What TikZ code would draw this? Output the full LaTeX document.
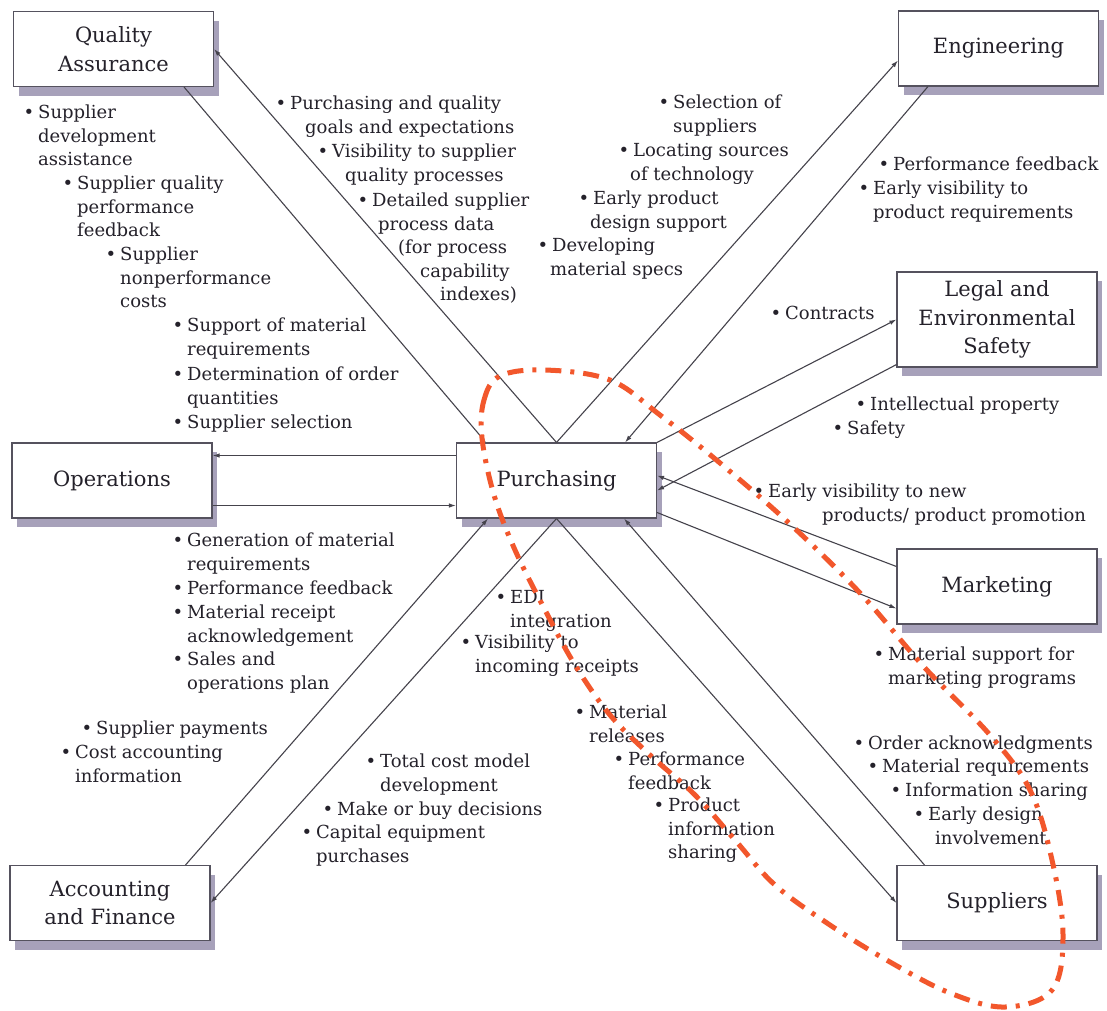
\documentclass[tikz,border=0pt]{standalone}
\usepackage{fontspec}
\setmainfont{DejaVu Serif}
\usetikzlibrary{arrows.meta,shadows}

\definecolor{inkc}{HTML}{24212A}
\definecolor{framec}{HTML}{55525E}
\definecolor{wirec}{HTML}{45434C}
\definecolor{shadec}{HTML}{A7A1BA}
\definecolor{loopc}{HTML}{F2572C}

\newcommand\bodyfont{\fontsize{18}{23.5}\selectfont}
\newcommand\boxfont{\fontsize{21}{28.5}\selectfont}
% one bullet item: name, x of text start, y of first text line, lines
\newcommand\bpt[4]{\node[bitem] (#1) at (#2,#3-11) {\strut\llap{\textbullet\hspace{4pt}}#4};}

\begin{document}
\begin{tikzpicture}[x=1pt,y=-1pt,
  unit/.style={draw=framec, line width=1.1pt, fill=white, align=center,
    font=\boxfont, text=inkc, minimum width=200pt, minimum height=75pt,
    inner sep=2pt,
    drop shadow={shadow xshift=5pt, shadow yshift=-9pt, fill=shadec, opacity=1}},
  bitem/.style={anchor=north west, inner sep=0pt, align=left,
    font=\bodyfont, text=inkc},
  flow/.style={draw=wirec, line width=1.1pt,
    -{Latex[length=7pt,width=4.5pt]}},
  ring/.style={draw=loopc, line width=5pt,
    dash pattern=on 16pt off 9pt on 4pt off 9pt}]

\useasboundingbox[fill=white] (0,0) rectangle (1107,1010);

% departments
\node[unit] (qa)  at (113.5,49)  {Quality\\Assurance};
\node[unit] (eng) at (998.5,48.5) {Engineering};
\node[unit, minimum height=95pt] (legal) at (997,319.5) {Legal and\\Environmental\\Safety};
\node[unit] (ops) at (112,480.5) {Operations};
\node[unit] (pur) at (556.5,480.5) {Purchasing};
\node[unit] (mkt) at (997,586.5) {Marketing};
\node[unit] (acc) at (110,903)   {Accounting\\and Finance};
\node[unit] (sup) at (997,903)   {Suppliers};

% information flows
\draw[flow] (pur.north) -- (qa.east);
\draw[flow] ([xshift=-30pt]qa.south east) -- ([xshift=30pt]pur.north west);
\draw[flow] (pur.north) -- ([yshift=-12pt]eng.west);
\draw[flow] ([xshift=30pt]eng.south west) -- ([xshift=-32pt]pur.north east);
\draw[flow] (pur.north east) -- (legal.west);
\draw[flow] ([yshift=3pt]legal.south west) -- ([yshift=-10pt]pur.east);
\draw[flow] ([yshift=20pt]mkt.west) -- ([yshift=5pt]pur.east);
\draw[flow] ([yshift=-32pt]pur.east) -- ([yshift=-22pt]mkt.west);
\draw[flow] ([yshift=25pt]pur.west) -- ([yshift=25pt]ops.east);
\draw[flow] ([yshift=-25pt]ops.east) -- ([yshift=-25pt]pur.west);
\draw[flow] ([xshift=-25pt]acc.north east) -- ([xshift=32pt]pur.south west);
\draw[flow] (pur.south) -- (acc.east);
\draw[flow] (pur.south) -- (sup.west);
\draw[flow] ([xshift=28pt]sup.north west) -- ([xshift=-33pt]pur.south east);

% Quality Assurance
\bpt{qb1}{38}{113}{Supplier\\development\\assistance}
\bpt{qb2}{77}{184}{Supplier quality\\performance\\feedback}
\bpt{qb3}{120}{255}{Supplier\\nonperformance\\costs}
\bpt{pq1}{290}{104}{Purchasing and quality\\\hspace*{15pt}goals and expectations}
\bpt{pq2}{332}{152}{Visibility to supplier\\\hspace*{13pt}quality processes}
\bpt{pq3}{372}{201}{Detailed supplier\\\hspace*{6pt}process data\\\hspace*{26pt}(for process\\\hspace*{48pt}capability\\\hspace*{68pt}indexes)}

% Operations
\bpt{ob1}{187}{326}{Support of material\\requirements}
\bpt{ob2}{187}{375}{Determination of order\\quantities}
\bpt{ob3}{187}{423}{Supplier selection}
\bpt{ob4}{187}{541}{Generation of material\\requirements}
\bpt{ob5}{187}{589}{Performance feedback}
\bpt{ob6}{187}{613}{Material receipt\\acknowledgement}
\bpt{ob7}{187}{660}{Sales and\\operations plan}

% Engineering
\bpt{eb1}{673}{103}{Selection of\\suppliers}
\bpt{eb2}{633}{151}{Locating sources\\\hspace*{-3pt}of technology}
\bpt{eb3}{593}{199}{Early product\\\hspace*{-3pt}design support}
\bpt{eb4}{552}{246}{Developing\\\hspace*{-2pt}material specs}
\bpt{er1}{893}{165}{Performance feedback}
\bpt{er2}{873}{189}{Early visibility to\\product requirements}

% Legal and Environmental Safety
\bpt{lb1}{785}{314}{Contracts}
\bpt{lb2}{870}{405}{Intellectual property}
\bpt{lb3}{847}{429}{Safety}

% Marketing
\bpt{mb1}{768}{492}{Early visibility to new\\\hspace*{54pt}products/ product promotion}
\bpt{mb2}{888}{655}{Material support for\\marketing programs}

% Accounting and Finance
\bpt{ab1}{96}{729}{Supplier payments}
\bpt{ab2}{75}{753}{Cost accounting\\information}
\bpt{am1}{380}{762}{Total cost model\\development}
\bpt{am2}{337}{810}{Make or buy decisions}
\bpt{am3}{316}{833}{Capital equipment\\purchases}

% Suppliers
\bpt{sm1}{510}{598}{EDI\\integration}
\bpt{sm2}{475}{643}{Visibility to\\incoming receipts}
\bpt{sm3}{589}{713}{Material\\releases}
\bpt{sm4}{628}{760}{Performance\\feedback}
\bpt{sm5}{668}{806}{Product\\information\\sharing}
\bpt{sr1}{868}{744}{Order acknowledgments}
\bpt{sr2}{882}{767}{Material requirements}
\bpt{sr3}{905}{791}{Information sharing}
\bpt{sr4}{928}{815}{Early design\\\hspace*{7pt}involvement}

% highlighted purchasing-supplier channel
\draw[ring] plot[smooth cycle, tension=0.6] coordinates {
  (482,438) (484,400) (500,376) (545,370) (610,380) (660,415)
  (720,463) (790,524) (860,593) (925,668) (990,735) (1030,790)
  (1052,860) (1063,935) (1052,990) (1005,1007) (950,993) (890,962)
  (830,925) (775,885) (735,840) (695,795) (650,755) (610,715)
  (575,665) (545,610) (515,550) (494,495)};

\end{tikzpicture}
\end{document}
